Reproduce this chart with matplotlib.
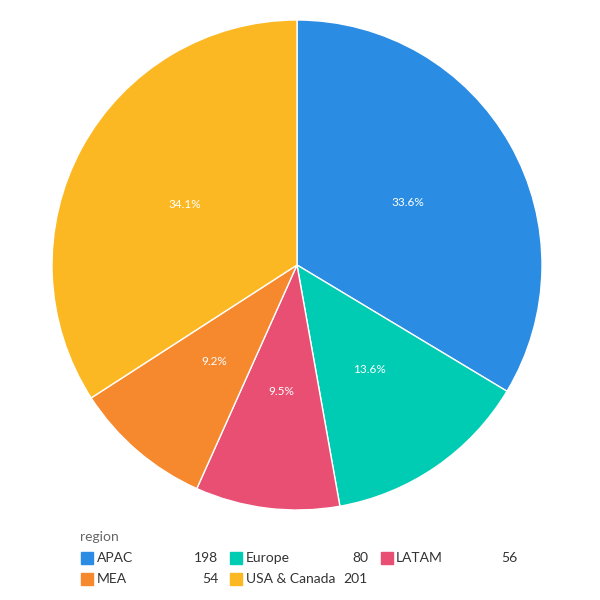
import matplotlib
matplotlib.use("Agg")
import matplotlib.pyplot as plt
from matplotlib.patches import Rectangle

regions = ["APAC", "Europe", "LATAM", "MEA", "USA & Canada"]
values = [198, 80, 56, 54, 201]
colors = ["#2a8ce2", "#00cbb3", "#e84f72", "#f6882d", "#fcb822"]

plt.rcParams['font.family'] = ['Lato', 'DejaVu Sans']
fig = plt.figure(figsize=(6, 6), dpi=100)
ax = fig.add_axes([297/600 - 245/600, 1 - 510/600, 490/600, 490/600])
ax.pie(values, colors=colors, startangle=90, counterclock=False,
       autopct="%.1f%%", pctdistance=0.52, radius=1,
       wedgeprops=dict(edgecolor="white", linewidth=1),
       textprops=dict(color="white", fontsize=8.5))
ax.set_xlim(-1, 1)
ax.set_ylim(-1, 1)
ax.set_aspect("equal")
ax.axis("off")

fig.text(80/600, 1 - 537/600, "region", fontsize=10, color="#666666", va="center")
cols = [(81, 97, 218), (230, 246, 368), (381, 396, 517)]
rows = [558, 579]
for i, (r, v, c) in enumerate(zip(regions, values, colors)):
    cx = cols[i % 3]; y = rows[i // 3]
    fig.patches.append(Rectangle((cx[0]/600, 1 - (y+6)/600), 12/600, 12/600,
                                 transform=fig.transFigure, color=c))
    fig.text(cx[1]/600, 1 - y/600, r, fontsize=10, color="#333333", va="center")
    fig.text(cx[2]/600, 1 - y/600, str(v), fontsize=10, color="#333333", va="center", ha="right")

fig.savefig("out.png", dpi=100)
